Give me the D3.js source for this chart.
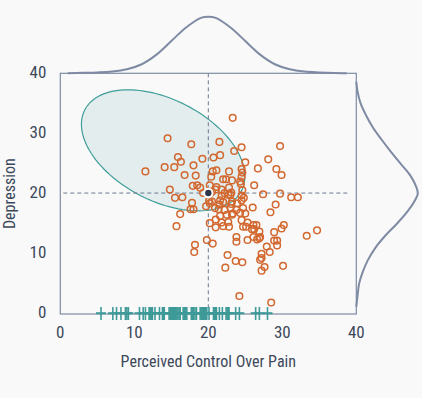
<!DOCTYPE html>
<html>
<head>
<meta charset="utf-8">
<script src="https://cdn.jsdelivr.net/npm/d3@7"></script>
<style>
  body { margin: 0; background: #f9f9f9; }
  text { font-family: "Roboto Condensed", "Liberation Sans Narrow", "DejaVu Sans Condensed", Roboto, sans-serif; fill: #3c4859; }
</style>
</head>
<body>
<div id="chart"></div>
<script>
// scatter points (perceived control, depression)
const pointX = [23.3, 14.5, 17.7, 21.5, 24.5, 29.7, 23.5, 15.9, 16.3, 19.2, 20.7, 21.6, 25.0, 28.1, 29.2, 29.9,
  26.7, 11.5, 14.1, 15.4, 18.0, 16.8, 18.3, 20.4, 20.6, 21.1, 22.0, 22.4, 22.8, 23.2, 24.5, 24.6, 24.5, 24.3,
  24.4, 26.2, 17.9, 18.5, 18.9, 14.8, 20.2, 21.1, 21.0, 21.8, 20.3, 19.3, 22.2, 23.0, 22.8, 24.6, 24.5, 24.8,
  24.5, 27.4, 29.7, 31.2, 32.1, 15.5, 16.5, 17.8, 18.0, 17.6, 16.2, 15.7, 19.7, 20.1, 20.5, 21.6, 22.0, 23.2,
  26.0, 29.1, 28.4, 24.3, 25.0, 23.8, 20.2, 21.0, 21.0, 25.3, 25.1, 26.1, 26.5, 25.9, 26.9, 26.1, 26.9, 25.3,
  28.9, 29.9, 30.2, 28.9, 29.3, 29.3, 27.9, 33.3, 34.7, 23.8, 23.8, 18.2, 18.1, 19.8, 20.6, 22.6, 22.3, 23.7,
  24.6, 27.2, 27.2, 27.0, 28.3, 27.6, 27.2, 30.1, 24.2, 28.5, 20.5, 21.8, 22.7, 23.1, 20.2, 21.5, 23.1, 23.9,
  21.4, 22.2, 23.0, 24.7, 23.3, 22.5, 21.6, 21.8, 22.7, 22.8, 22.0, 26.2, 27.0, 26.6, 24.5, 24.7, 23.2, 20.9];
const pointY = [32.6, 29.2, 28.2, 28.6, 27.7, 27.9, 27.1, 26.1, 25.3, 25.8, 26.0, 26.4, 25.2, 25.7, 24.1, 23.1,
  24.2, 23.7, 24.4, 24.4, 24.7, 23.1, 23.0, 22.8, 23.7, 23.9, 22.4, 22.4, 23.7, 22.2, 24.1, 23.5, 22.8, 22.0,
  21.6, 21.4, 21.3, 21.4, 21.0, 20.7, 21.4, 21.1, 20.7, 20.7, 20.1, 20.1, 20.1, 19.8, 21.0, 20.6, 19.7, 19.3,
  18.9, 19.9, 20.0, 19.4, 19.4, 19.3, 19.4, 18.5, 17.4, 17.4, 16.6, 14.6, 17.9, 18.8, 18.7, 18.9, 18.6, 18.7,
  17.7, 18.2, 16.9, 16.8, 16.7, 17.3, 15.1, 15.7, 14.4, 15.2, 14.5, 14.8, 14.8, 14.1, 13.7, 12.8, 12.6, 12.3,
  13.6, 14.2, 14.8, 12.2, 12.2, 11.4, 11.2, 13.0, 13.9, 12.8, 12.0, 11.5, 10.3, 12.3, 11.7, 9.8, 7.7, 8.8,
  8.6, 10.0, 9.3, 9.0, 10.3, 7.8, 7.2, 8.0, 3.0, 1.9, 20.3, 19.6, 19.8, 20.2, 18.4, 18.2, 18.3, 18.4,
  17.4, 17.3, 17.6, 17.6, 16.7, 16.5, 16.3, 15.2, 15.3, 14.5, 14.6, 14.1, 12.8, 12.4, 15.6, 14.5, 16.5, 17.6];

const meanPoint = [20.0, 20.1];

// ellipse: centre and two semi-axis vectors, data units
const ellipseCenter = [13.9, 27.2];
const ellipseAxisA = [10.6, -6.7];
const ellipseAxisB = [-3.1, -7.5];

// rug along the x axis
const rugX = [5.5, 7.1, 7.6, 8.2, 8.8, 9.0, 9.2, 10.7, 11.2, 11.5, 12.0, 12.15, 12.3, 12.45, 12.8, 13.4, 13.8, 13.95, 14.05,
  14.7, 14.85, 15.0, 15.15, 15.3, 15.45, 15.6, 15.75, 15.9, 16.05, 16.2, 16.6, 16.75, 16.9, 17.1, 17.7, 17.85, 18.0,
  18.2, 18.4, 18.9, 19.05, 19.2, 19.35, 19.5, 19.65, 19.8, 20.1, 20.7, 20.85, 21.0, 21.1, 21.5, 21.9, 22.4, 22.55,
  22.7, 22.8, 23.7, 24.2, 26.4, 26.9, 28.0];

// marginal densities (relative height)
const topDensX = [1, 3, 5, 7, 9, 11, 13, 15, 17, 19, 20, 21, 23, 25, 27, 29, 31, 33, 35, 37, 38.7];
const topDensV = [0.003, 0.008, 0.015, 0.03, 0.07, 0.16, 0.33, 0.57, 0.81, 0.98, 1.0, 0.98, 0.81, 0.57, 0.33, 0.16, 0.07, 0.03, 0.015, 0.006, 0.003];
const rightDensY = [1.2, 3, 5, 7, 9, 11, 13, 15, 17, 19, 20, 21, 23, 25, 27, 29, 31, 33, 35, 37, 38.6];
const rightDensV = [0.0, 0.02, 0.045, 0.105, 0.19, 0.31, 0.47, 0.66, 0.83, 0.96, 1.0, 0.98, 0.88, 0.72, 0.56, 0.41, 0.27, 0.16, 0.07, 0.02, 0.0];

const xTicks = [0, 10, 20, 30, 40];
const yTicks = [0, 10, 20, 30, 40];

const margin = {top: 73.3, right: 65.7, bottom: 84, left: 60.3},
      width = 422 - margin.left - margin.right,
      height = 398 - margin.top - margin.bottom;

const svg = d3.select("#chart")
  .append("svg")
  .attr("width", 422)
  .attr("height", 398)
  .append("g")
  .attr("transform", `translate(${margin.left},${margin.top})`);

const x = d3.scaleLinear().domain([0, 40]).range([0, width]);
const y = d3.scaleLinear().domain([0, 40]).range([height, 0]);

const frameColor = "#7e8ba3";

// ellipse
const ellipsePts = d3.range(0, 361, 3).map(a => {
  const t = a * Math.PI / 180;
  return [
    ellipseCenter[0] + ellipseAxisA[0] * Math.cos(t) + ellipseAxisB[0] * Math.sin(t),
    ellipseCenter[1] + ellipseAxisA[1] * Math.cos(t) + ellipseAxisB[1] * Math.sin(t)
  ];
});

svg.append("path")
  .datum(ellipsePts)
  .attr("d", d3.line().x(d => x(d[0])).y(d => y(d[1])).curve(d3.curveLinearClosed))
  .attr("fill", "#e3eded")
  .attr("stroke", "#3f9e99")
  .attr("stroke-width", 1.2);

// mean lines
svg.append("line")
  .attr("x1", x(meanPoint[0])).attr("x2", x(meanPoint[0]))
  .attr("y1", 0).attr("y2", height)
  .attr("stroke", "#6b7890")
  .attr("stroke-dasharray", "4,3");

svg.append("line")
  .attr("x1", 3).attr("x2", width - 6)
  .attr("y1", y(meanPoint[1])).attr("y2", y(meanPoint[1]))
  .attr("stroke", "#6b7890")
  .attr("stroke-dasharray", "4,3");

// frame
svg.append("rect")
  .attr("width", width)
  .attr("height", height)
  .attr("fill", "none")
  .attr("stroke", frameColor)
  .attr("stroke-width", 1.2);

// rug
const rug = svg.append("g")
  .attr("stroke", "#3e9a98")
  .attr("stroke-width", 1.6);

rug.selectAll(".rug-v")
  .data(rugX)
  .enter()
  .append("line")
  .attr("x1", d => x(d)).attr("x2", d => x(d))
  .attr("y1", height - 7).attr("y2", height + 6);

rug.selectAll(".rug-h")
  .data(rugX)
  .enter()
  .append("line")
  .attr("x1", d => x(d) - 5).attr("x2", d => x(d) + 5)
  .attr("y1", height - 0.8).attr("y2", height - 0.8)
  .attr("stroke-width", 2);

// points
svg.selectAll(".dot")
  .data(pointX.map((v, i) => [v, pointY[i]]))
  .enter()
  .append("circle")
  .attr("class", "dot")
  .attr("cx", d => x(d[0]))
  .attr("cy", d => y(d[1]))
  .attr("r", 3.3)
  .attr("fill", "none")
  .attr("stroke", "#d2682f")
  .attr("stroke-width", 1.5);

svg.append("circle")
  .attr("cx", x(meanPoint[0]))
  .attr("cy", y(meanPoint[1]))
  .attr("r", 4.2)
  .attr("fill", "#2d3748")
  .attr("stroke", "#ffffff")
  .attr("stroke-width", 2);

// marginal densities
const topH = d3.scaleLinear().domain([0, 1]).range([0, -56.6]);
svg.append("path")
  .datum(topDensX.map((v, i) => [v, topDensV[i]]))
  .attr("d", d3.line().x(d => x(d[0])).y(d => topH(d[1])).curve(d3.curveCatmullRom))
  .attr("fill", "none")
  .attr("stroke", frameColor)
  .attr("stroke-width", 2);

const rightW = d3.scaleLinear().domain([0, 1]).range([width, width + 61.5]);
svg.append("path")
  .datum(rightDensY.map((v, i) => [v, rightDensV[i]]))
  .attr("d", d3.line().x(d => rightW(d[1])).y(d => y(d[0])).curve(d3.curveCatmullRom))
  .attr("fill", "none")
  .attr("stroke", frameColor)
  .attr("stroke-width", 2);

// tick labels
svg.selectAll(".xtick")
  .data(xTicks)
  .enter()
  .append("text")
  .attr("x", d => x(d))
  .attr("y", height + 24.5)
  .attr("text-anchor", "middle")
  .style("font-size", "17px")
  .text(d => d);

svg.selectAll(".ytick")
  .data(yTicks)
  .enter()
  .append("text")
  .attr("x", -14)
  .attr("y", d => y(d) + 4.5)
  .attr("text-anchor", "end")
  .style("font-size", "17px")
  .text(d => d);

svg.append("text")
  .attr("x", width / 2)
  .attr("y", height + 53)
  .attr("text-anchor", "middle")
  .style("font-size", "16px")
  .text("Perceived Control Over Pain");

svg.append("text")
  .attr("transform", "rotate(-90)")
  .attr("x", -y(20))
  .attr("y", -45)
  .attr("text-anchor", "middle")
  .style("font-size", "16px")
  .text("Depression");
</script>
</body>
</html>
